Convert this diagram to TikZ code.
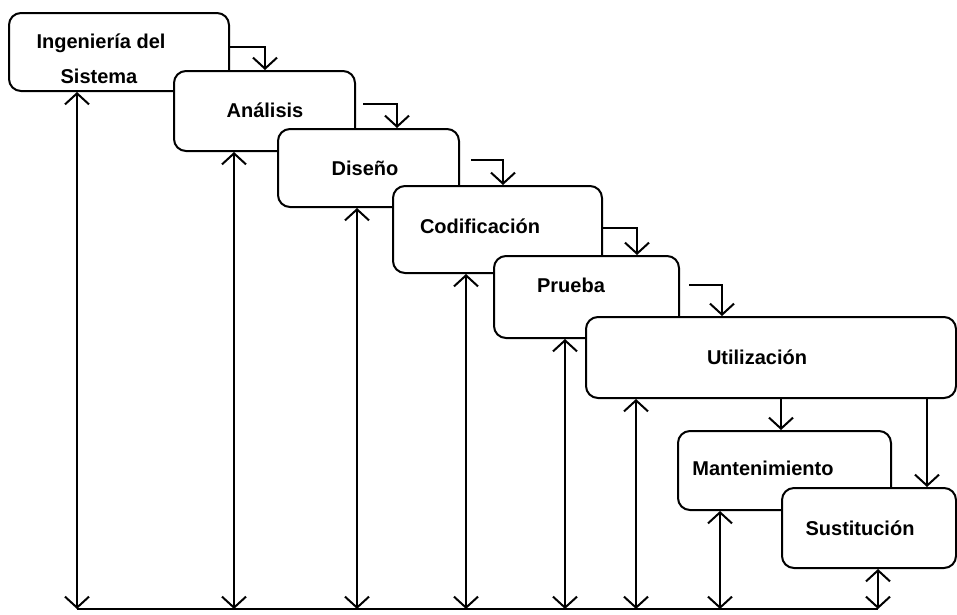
\documentclass[tikz,border=0pt]{standalone}
\usepackage{fontspec}
\setmainfont{Liberation Sans}
\usetikzlibrary{arrows.meta}
\begin{document}
\begin{tikzpicture}[x=1pt,y=-1pt,
  phase/.style={draw, fill=white, line width=2pt, rounded corners=12pt,
    rectangle, inner sep=0pt, anchor=north west},
  lbl/.style={font=\fontsize{20}{24}\selectfont\bfseries, inner sep=0pt},
  barb/.tip={Straight Barb[length=11pt,width=24pt,line width=2pt]},
  steparrow/.style={line width=2pt, -barb},
  dblarrow/.style={line width=2pt, barb-barb},
  baseline/.style={line width=2pt}]
\useasboundingbox (0,0) rectangle (957,614);

% phases of the life cycle, each overlapping the previous one
\node[phase, minimum width=220pt, minimum height=78pt] (ing) at (8,12) {};
\node[phase, minimum width=181pt, minimum height=80pt] (ana) at (173,70) {};
\node[phase, minimum width=181pt, minimum height=78pt] (dis) at (277,128) {};
\node[phase, minimum width=209pt, minimum height=87pt] (cod) at (392,185) {};
\node[phase, minimum width=185pt, minimum height=82pt] (pru) at (493,255) {};
\node[phase, minimum width=370pt, minimum height=81pt] (uti) at (585,316) {};
\node[phase, minimum width=213pt, minimum height=79pt] (man) at (677,430) {};
\node[phase, minimum width=174pt, minimum height=80pt] (sus) at (781,487) {};

% phase names
\node[lbl] (ting1) at (101,43) {Ingeniería del};
\node[lbl] (ting2) at (99,76) {Sistema};
\node[lbl] (tana) at (265,110) {Análisis};
\node[lbl] (tdis) at (365,168) {Diseño};
\node[lbl] (tcod) at (480,226) {Codificación};
\node[lbl] (tpru) at (571,285) {Prueba};
\node[lbl] (tuti) at (757,357) {Utilización};
\node[lbl] (tman) at (763,468) {Mantenimiento};
\node[lbl] (tsus) at (860,528) {Sustitución};

% forward steps between consecutive phases
\draw[steparrow] (ing.east |- 0,47) -| (265,0 |- ana.north);
\draw[steparrow] ([xshift=7pt]ana.east |- 0,104) -| (397,0 |- dis.north);
\draw[steparrow] ([xshift=11pt]dis.east |- 0,160) -| (503,0 |- cod.north);
\draw[steparrow] (cod.east |- 0,228) -| (637,0 |- pru.north);
\draw[steparrow] ([xshift=9pt]pru.east |- 0,285) -| (722,0 |- uti.north);
\draw[steparrow] (781,0 |- uti.south) -- (781,0 |- man.north);
\draw[steparrow] (927,0 |- uti.south) -- (927,0 |- sus.north);

% feedback bus along the bottom
\coordinate (bl) at (77,609);
\coordinate (br) at (878,609);
\draw[baseline] (bl) -- (br);
\draw[dblarrow] (bl |- ing.south) -- (bl);
\draw[dblarrow] (234,0 |- ana.south) -- (bl -| 234,0);
\draw[dblarrow] (357,0 |- dis.south) -- (bl -| 357,0);
\draw[dblarrow] (466,0 |- cod.south) -- (bl -| 466,0);
\draw[dblarrow] (565,0 |- pru.south) -- (bl -| 565,0);
\draw[dblarrow] (636,0 |- uti.south) -- (bl -| 636,0);
\draw[dblarrow] (720,0 |- man.south) -- (bl -| 720,0);
\draw[dblarrow] (br |- sus.south) -- (br);
\end{tikzpicture}
\end{document}
